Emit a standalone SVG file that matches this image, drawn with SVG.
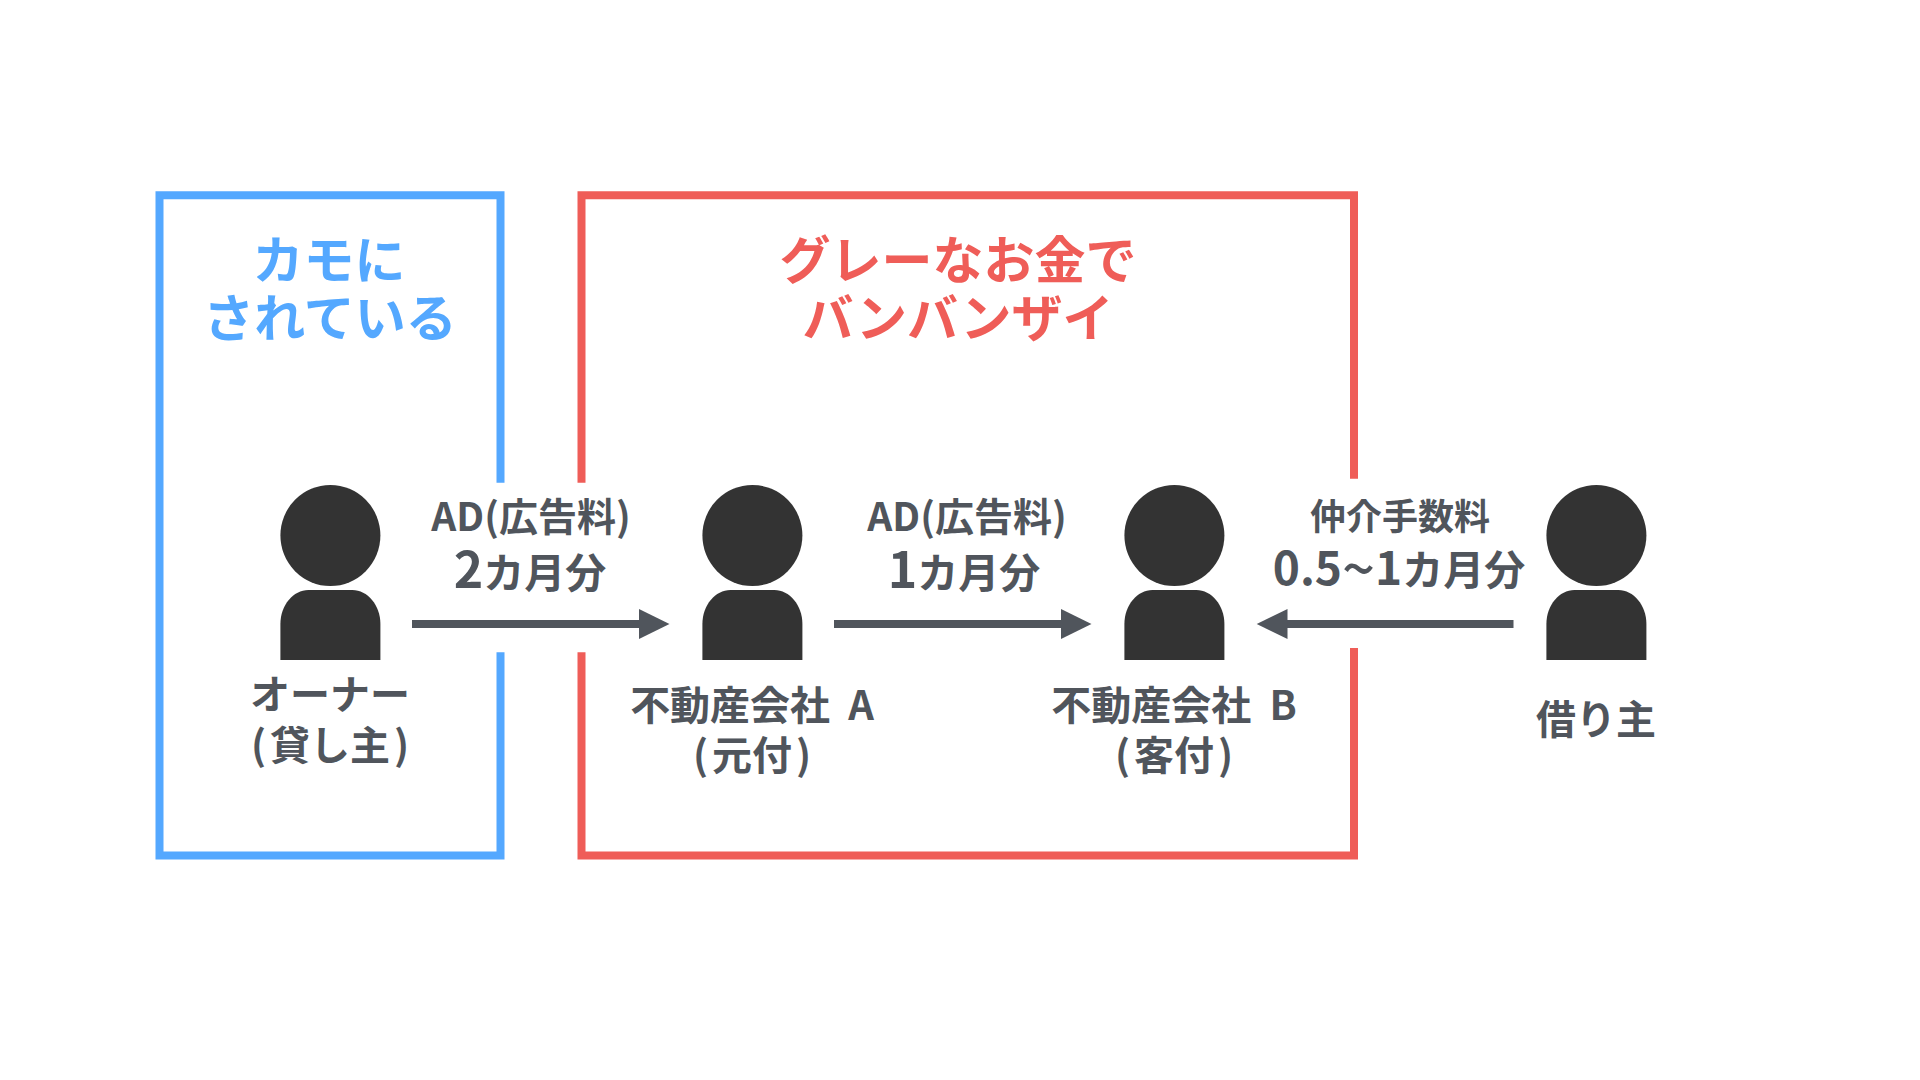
<svg xmlns="http://www.w3.org/2000/svg" width="1920" height="1080" viewBox="0 0 1920 1080">
<style>
text{font-family:"Noto Sans CJK JP","Noto Sans",sans-serif;font-weight:700;text-anchor:middle;fill:#50555c}
.t{font-size:51px}
.l{font-size:39px}
.n{font-size:40px}
.s{font-size:36px}
.a{font-size:41px}
.big{font-size:50px}
.mid{font-size:46px}
.tl{font-size:58px;font-weight:500}
.p{fill:#333}
.f{fill:none;stroke-width:8}
.c{stroke:#50555c;stroke-width:8;fill:none}
.h{fill:#50555c}
</style>
<defs>
<g id="person"><ellipse cx="0" cy="535.5" rx="50" ry="50.5"/><path d="M-50 660V624C-50 605-37 590-22 590H22C37 590 50 605 50 624V660Z"/></g>
</defs>
<rect width="1920" height="1080" fill="#fff"/>
<g id="frame-blue">
<path class="f" stroke="#54a8ff" d="M500.5 482.7V195.3H159.5V855.5H500.5V652.3"/>
<text class="t" x="329" y="279" style="fill:#54a8ff">カモに</text>
<text class="t" x="330" y="337" style="fill:#54a8ff">されている</text>
</g>
<g id="frame-red">
<path class="f" stroke="#ef5d58" d="M581.5 482.7V195.3H1354V478.7M1354 648V855.5H581.5V652.3"/>
<text class="t" x="958" y="279" style="fill:#ef5d58">グレーなお金で</text>
<text class="t" x="958" y="337" style="fill:#ef5d58">バンバンザイ</text>
</g>
<g id="connectors">
<path class="c" d="M412 624H640"/><polygon class="h" points="639,609 669.5,624 639,639"/>
<path class="c" d="M834 624H1062"/><polygon class="h" points="1061,609 1091.5,624 1061,639"/>
<path class="c" d="M1513.5 624H1286"/><polygon class="h" points="1287.5,609 1256.7,624 1287.5,639"/>
</g>
<g id="node-owner"><use class="p" href="#person" x="330.4"/>
<text class="n" x="330" y="709">オーナー</text><text class="n" x="330" y="760">(<tspan dx="4">貸し主</tspan><tspan dx="4">)</tspan></text></g>
<g id="node-a"><use class="p" href="#person" x="752.4"/>
<text class="n" x="752" y="720">不動産会社 <tspan dx="9">A</tspan></text><text class="n" x="752" y="770">(<tspan dx="4">元付</tspan><tspan dx="4">)</tspan></text></g>
<g id="node-b"><use class="p" href="#person" x="1174.4"/>
<text class="n" x="1174" y="720">不動産会社 <tspan dx="9">B</tspan></text><text class="n" x="1174" y="770">(<tspan dx="4">客付</tspan><tspan dx="4">)</tspan></text></g>
<g id="node-borrower"><use class="p" href="#person" x="1596.4"/>
<text class="n" x="1596" y="734">借り主</text></g>
<g id="labels">
<text class="l" x="531" y="531">AD(広告料)</text>
<text class="a" x="530" y="588"><tspan class="big">2</tspan>カ月分</text>
<text class="l" x="967" y="531">AD(広告料)</text>
<text class="a" x="964" y="588"><tspan class="big">1</tspan>カ月分</text>
<text class="s" x="1400" y="530">仲介手数料</text>
<text class="a" x="1399" y="585"><tspan class="mid">0.5</tspan><tspan class="tl" dy="5">~</tspan><tspan class="mid" dy="-5">1</tspan>カ月分</text>
</g>
</svg>
